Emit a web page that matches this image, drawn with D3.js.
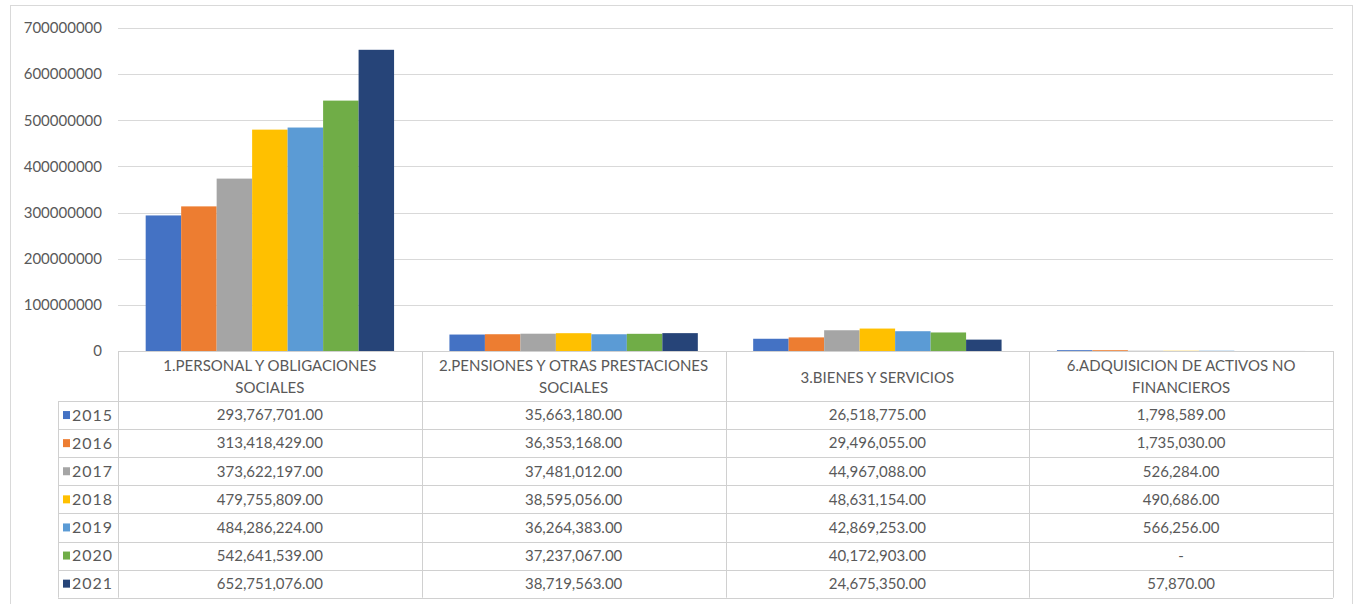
<!DOCTYPE html>
<html>
<head>
<meta charset="utf-8">
<script src="https://cdn.jsdelivr.net/npm/d3@7"></script>
<style>
  body { margin: 0; background: #fff; }
  text { font-family: Lato, "Open Sans", sans-serif; fill: #595959; }
</style>
</head>
<body>
<div id="chart"></div>
<script>
//////////////////////////////////////////////////////
///////////////////// The data ///////////////////////
//////////////////////////////////////////////////////

var categories = [
	["1.PERSONAL Y OBLIGACIONES", "SOCIALES"],
	["2.PENSIONES Y OTRAS PRESTACIONES", "SOCIALES"],
	["3.BIENES Y SERVICIOS"],
	["6.ADQUISICION DE ACTIVOS NO", "FINANCIEROS"]
];
var years = ["2015", "2016", "2017", "2018", "2019", "2020", "2021"];
var colors = ["#4472C4", "#ED7D31", "#A5A5A5", "#FFC000", "#5B9BD5", "#70AD47", "#264478"];

//One array per year, one value per category (null = "-")
var values2015 = [293767701, 35663180, 26518775, 1798589];
var values2016 = [313418429, 36353168, 29496055, 1735030];
var values2017 = [373622197, 37481012, 44967088, 526284];
var values2018 = [479755809, 38595056, 48631154, 490686];
var values2019 = [484286224, 36264383, 42869253, 566256];
var values2020 = [542641539, 37237067, 40172903, null];
var values2021 = [652751076, 38719563, 24675350, 57870];
var series = [values2015, values2016, values2017, values2018, values2019, values2020, values2021];

var yTicks = [0, 100000000, 200000000, 300000000, 400000000, 500000000, 600000000, 700000000];

//////////////////////////////////////////////////////
///////////////////// Set up /////////////////////////
//////////////////////////////////////////////////////

var width = 1359, height = 604;
var plotLeft = 118, plotRight = 1333, plotTop = 28, plotBottom = 351;
var rowHeight = 28.1, headerHeight = 50, legendLeft = 58;
var fontSize = "15px";

var svg = d3.select("#chart").append("svg")
	.attr("width", width)
	.attr("height", height);

//Outer chart frame
svg.append("rect")
	.attr("x", 10.5).attr("y", 5.5)
	.attr("width", 1342).attr("height", 610)
	.style("fill", "none")
	.style("stroke", "#d9d9d9");

var x = d3.scaleBand()
	.domain(d3.range(categories.length))
	.range([plotLeft, plotRight]);

var xYear = d3.scaleBand()
	.domain(years)
	.range([0, x.bandwidth()])
	.paddingOuter(0.78)
	.paddingInner(0);

var y = d3.scaleLinear()
	.domain([0, 700000000])
	.range([plotBottom, plotTop]);

//Gridlines
svg.append("g").selectAll("line")
	.data(yTicks.slice(1))
	.enter().append("line")
	.attr("x1", plotLeft).attr("x2", plotRight)
	.attr("y1", function(d) { return Math.round(y(d)) + 0.5; })
	.attr("y2", function(d) { return Math.round(y(d)) + 0.5; })
	.style("stroke", "#d9d9d9");

//Y axis labels
var yAxis = d3.axisLeft(y).tickValues(yTicks).tickSize(0).tickPadding(16).tickFormat(d3.format("d"));
svg.append("g")
	.attr("transform", "translate(" + plotLeft + ",0)")
	.call(yAxis)
	.call(function(g) { g.select(".domain").remove(); })
	.selectAll("text")
	.style("font-size", fontSize)
	.style("font-family", "Lato, sans-serif")
	.attr("fill", "#595959");

//Bars
var barGroups = svg.append("g").selectAll("g")
	.data(series)
	.enter().append("g")
	.style("fill", function(d, i) { return colors[i]; });

barGroups.selectAll("rect")
	.data(function(d, i) { return d.map(function(v, c) { return {v: v || 0, c: c, year: years[i]}; }); })
	.enter().append("rect")
	.attr("x", function(d) { return x(d.c) + xYear(d.year); })
	.attr("width", xYear.bandwidth())
	.attr("y", function(d) { return y(d.v); })
	.attr("height", function(d) { return plotBottom - y(d.v); });

//////////////////////////////////////////////////////
///////////////////// Data table /////////////////////
//////////////////////////////////////////////////////

var table = svg.append("g").attr("class", "dataTable");
var tableTop = plotBottom;
var bodyTop = tableTop + headerHeight;
var tableBottom = bodyTop + years.length * rowHeight;
var lineColor = "#d0d0d0";

//Horizontal lines
var hLines = [{x1: plotLeft, y: tableTop}].concat(d3.range(years.length + 1).map(function(i) {
	return {x1: legendLeft, y: bodyTop + i * rowHeight};
}));
table.selectAll(".hline")
	.data(hLines)
	.enter().append("line")
	.attr("x1", function(d) { return d.x1; })
	.attr("x2", plotRight)
	.attr("y1", function(d) { return Math.round(d.y) + 0.5; })
	.attr("y2", function(d) { return Math.round(d.y) + 0.5; })
	.style("stroke", lineColor);

//Vertical lines
var vLines = d3.range(categories.length + 1).map(function(i) { return {x: i < categories.length ? x(i) : plotRight, y1: tableTop}; });
vLines.push({x: legendLeft, y1: bodyTop});
table.selectAll(".vline")
	.data(vLines)
	.enter().append("line")
	.attr("x1", function(d) { return Math.round(d.x) + 0.5; })
	.attr("x2", function(d) { return Math.round(d.x) + 0.5; })
	.attr("y1", function(d) { return d.y1; })
	.attr("y2", tableBottom)
	.style("stroke", lineColor);

//Header texts
table.selectAll(".header")
	.data(categories)
	.enter().append("text")
	.attr("class", "header")
	.attr("x", function(d, i) { return x(i) + x.bandwidth() / 2; })
	.attr("y", function(d) { return tableTop + (d.length > 1 ? 15 : 27); })
	.style("text-anchor", "middle")
	.style("font-size", fontSize)
	.selectAll("tspan")
	.data(function(d) { return d; })
	.enter().append("tspan")
	.attr("x", function() { return d3.select(this.parentNode).attr("x"); })
	.attr("dy", function(d, i) { return i === 0 ? "0.35em" : "22px"; })
	.text(function(d) { return d; });

//Legend keys + years
var rows = table.selectAll(".row")
	.data(years)
	.enter().append("g")
	.attr("transform", function(d, i) { return "translate(0," + (bodyTop + i * rowHeight + rowHeight / 2) + ")"; });

rows.append("rect")
	.attr("x", legendLeft + 5)
	.attr("y", -4)
	.attr("width", 7).attr("height", 8)
	.style("fill", function(d, i) { return colors[i]; });

rows.append("text")
	.attr("x", legendLeft + 14)
	.attr("dy", "0.35em")
	.style("font-size", "16px")
	.style("letter-spacing", "1px")
	.text(function(d) { return d; });

var fmt = d3.format(",.2f");
rows.selectAll(".cell")
	.data(function(d, i) { return series[i]; })
	.enter().append("text")
	.attr("x", function(d, c) { return x(c) + x.bandwidth() / 2; })
	.attr("dy", "0.35em")
	.style("text-anchor", "middle")
	.style("font-size", fontSize)
	.text(function(d) { return d == null ? "-" : fmt(d); });
</script>
</body>
</html>
